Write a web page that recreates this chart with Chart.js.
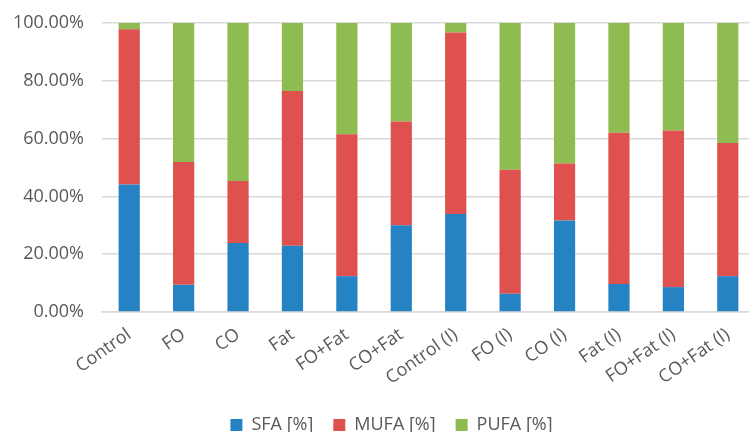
<!DOCTYPE html>
<html>
<head>
<meta charset="utf-8">
<script src="https://cdn.jsdelivr.net/npm/chart.js@4/dist/chart.umd.min.js"></script>
<style>
  html, body { margin: 0; padding: 0; background: #fff; overflow: hidden; }
  #wrap { position: relative; width: 783px; height: 432px; }
</style>
</head>
<body>
<div id="wrap"><canvas id="c" width="783" height="432"></canvas></div>
<script>
// Fatty acid composition per diet group (share of total, %)
const categories = ['Control', 'FO', 'CO', 'Fat', 'FO+Fat', 'CO+Fat',
  'Control (I)', 'FO (I)', 'CO (I)', 'Fat (I)', 'FO+Fat (I)', 'CO+Fat (I)'];
const sfa  = [44.1,  9.4, 23.9, 22.9, 12.4, 30.0, 33.9,  6.3, 31.7,  9.7,  8.6, 12.4];
const mufa = [53.7, 42.5, 21.4, 53.6, 49.1, 35.9, 62.8, 42.9, 19.7, 52.3, 54.2, 46.1];
const pufa = [ 2.2, 48.1, 54.7, 23.5, 38.5, 34.1,  3.3, 50.8, 48.6, 38.0, 37.2, 41.5];
const seriesNames = ['SFA [%]', 'MUFA [%]', 'PUFA [%]'];
const yTicks = [0, 20, 40, 60, 80, 100];

const colors = ['#2683C3', '#DF514F', '#8FBC50'];
const textColor = '#595959';
const gridColor = '#D9D9D9';
const fontFamily = '"Open Sans", "Liberation Sans", sans-serif';

const datasets = [sfa, mufa, pufa].map((vals, i) => ({
  label: seriesNames[i],
  data: vals,
  backgroundColor: colors[i],
  borderWidth: 0,
  barPercentage: 0.39,
  categoryPercentage: 1.0
}));

new Chart(document.getElementById('c'), {
  type: 'bar',
  data: { labels: categories, datasets },
  options: {
    responsive: false,
    animation: false,
    devicePixelRatio: 1,
    layout: { padding: { top: 23, left: 0, right: 28, bottom: -12 } },
    plugins: {
      tooltip: { enabled: false },
      legend: {
        position: 'bottom',
        labels: {
          color: textColor,
          font: { family: fontFamily, size: 18 },
          boxWidth: 12,
          boxHeight: 12,
          padding: 20
        }
      }
    },
    scales: {
      x: {
        stacked: true,
        grid: { display: false, drawTicks: false },
        border: { display: true, color: gridColor, width: 1.5 },
        ticks: {
          color: textColor,
          font: { family: fontFamily, size: 18 },
          minRotation: 35,
          maxRotation: 35,
          padding: 12,
          autoSkip: false
        },
        afterFit(scale) { scale.height = 84; }
      },
      y: {
        stacked: true,
        min: 0,
        max: 100,
        grid: { color: gridColor, lineWidth: 1.5, drawTicks: false },
        border: { display: false },
        afterBuildTicks(scale) { scale.ticks = yTicks.map(v => ({ value: v })); },
        ticks: {
          color: textColor,
          font: { family: fontFamily, size: 18 },
          padding: 18,
          callback: v => v.toFixed(2) + '%'
        },
        afterFit(scale) {
          scale.width = 102;
          scale.paddingTop = 0;
          scale.paddingBottom = 0;
        }
      }
    }
  },
  plugins: [{
    // centre the legend row under the whole figure width
    id: 'legendShift',
    afterLayout(chart) {
      chart.legend.left += 14;
      chart.legend.right += 14;
    }
  }]
});
</script>
</body>
</html>
